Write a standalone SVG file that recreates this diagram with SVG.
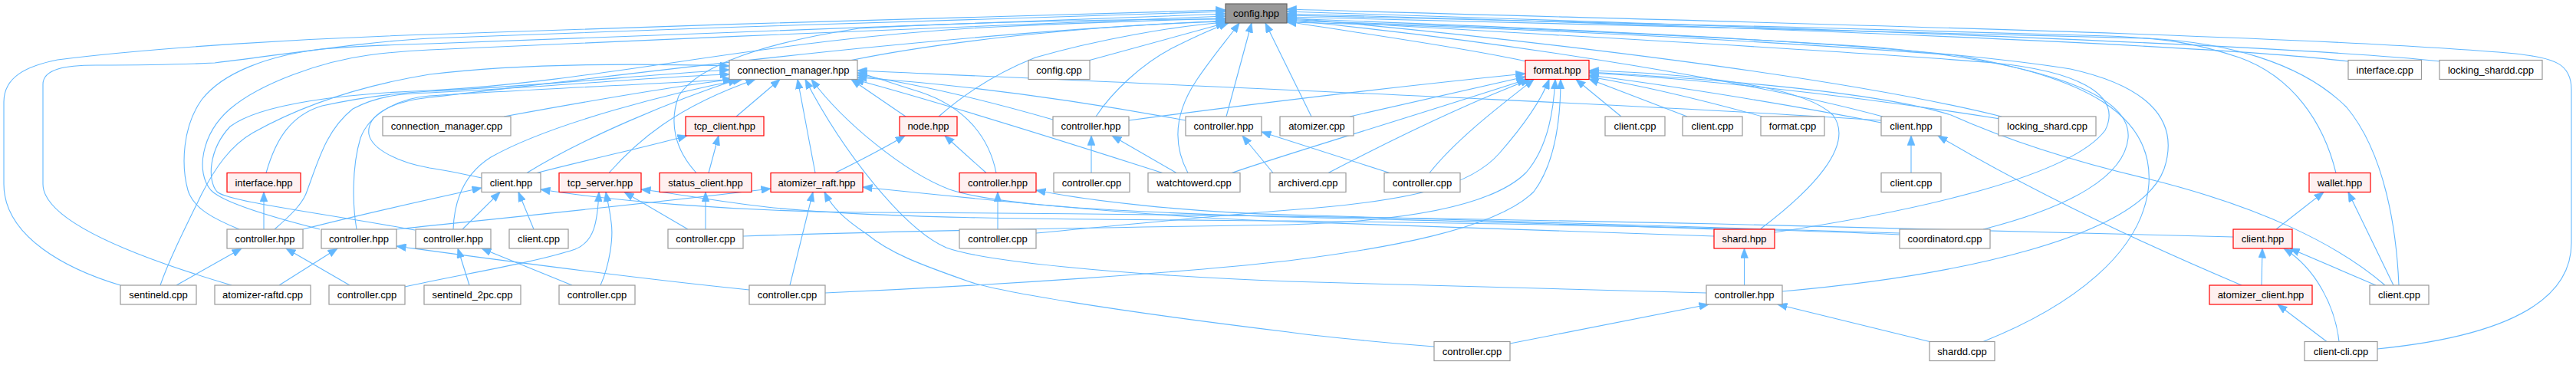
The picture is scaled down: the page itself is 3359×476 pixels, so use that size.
<svg xmlns="http://www.w3.org/2000/svg" width="3359" height="476" viewBox="0 0 3359 476">
<defs>
<style>
.e{fill:none;stroke:#63b8ff;stroke-width:1.1;marker-end:url(#ah)}
.n rect{fill:#ffffff;stroke:#999999;stroke-width:1.2}
.n.r rect{fill:#fff0f0;stroke:#ff0000}
.n.g rect{fill:#999999;stroke:#666666}
.n text{font-family:"Liberation Sans",Arial,Helvetica,sans-serif;font-size:13px;fill:#000000;text-anchor:middle}
</style>
<marker id="ah" viewBox="0 0 13 10" refX="12.5" refY="5" markerWidth="13" markerHeight="10" markerUnits="userSpaceOnUse" orient="auto"><path d="M0,0 L13,5 L0,10 z" fill="#63b8ff" stroke="#63b8ff" stroke-width="0.5"/></marker>
</defs>
<rect width="3359" height="476" fill="#ffffff"/>
<g id="edges">
<path class="e" d="M157,372 C90,352 5,310 5,240 L5,133 C5,100 35,86 75,78 C200,62 400,50 560,45 C900,33 1300,20 1598,13"/>
<path class="e" d="M302,372 C200,342 56,292 56,240 L56,110 C56,90 85,85 125,85 C200,85 240,84 280,82 C380,70 470,55 560,50 C900,37 1300,23 1598,15"/>
<path class="e" d="M312,299 C280,286 252,272 245,248 C236,215 238,165 263,130 C290,95 350,72 420,64 C470,60 520,58 560,57 C900,45 1300,28 1598,18"/>
<path class="e" d="M417,299 C350,282 290,264 275,248 C255,225 262,175 300,142 C340,108 420,80 480,72 C510,68 535,66 560,65 C900,50 1300,32 1598,21"/>
<path class="e" d="M541,300 C400,275 295,262 283,250 C270,235 272,195 300,165 C340,135 450,122 560,118 C800,105 1000,50 1300,35 C1450,28 1530,26 1598,24"/>
<path class="e" d="M908,225.5 C880,195 872,160 885,125 C910,85 1000,55 1120,37 C1300,27 1500,25 1598,25"/>
<path class="e" d="M628,232 C600,226 580,222 560,219 C520,212 485,195 481,175 C478,152 505,133 560,127 C800,100 1200,45 1598,27"/>
<path class="e" d="M1110,78.5 C1250,50 1450,32 1598,28"/>
<path class="e" d="M1224,152 C1260,120 1300,95 1350,75 C1430,52 1530,34 1598,29"/>
<path class="e" d="M1421,78.5 L1598,30"/>
<path class="e" d="M1429,152 C1450,120 1490,82 1530,62 C1560,47 1585,36 1602,30"/>
<path class="e" d="M1549,225.5 C1530,190 1530,150 1560,105 C1580,75 1600,52 1616,30"/>
<path class="e" d="M1599,152 L1632,30"/>
<path class="e" d="M1710,152 L1650,30"/>
<path class="e" d="M1990,80 C1900,60 1750,40 1678,28"/>
<path class="e" d="M3062,80 C2900,60 2300,35 1678,18"/>
<path class="e" d="M3182,80 C3000,60 2400,38 1678,15"/>
<path class="e" d="M3100,455 C3250,440 3353,400 3353,317 L3353,117 C3353,82 3330,76 3280,70 C3000,45 2300,30 1678,12"/>
<path class="e" d="M3046,225.5 C3030,160 2990,100 2920,75 C2860,55 2820,50 2750,47 C2400,36 2000,27 1678,20"/>
<path class="e" d="M3128,372 C3125,300 3110,200 3060,140 C3000,80 2900,55 2800,50 C2400,37 2000,28 1678,22"/>
<path class="e" d="M2314,303 C2500,275 2700,230 2745,170 C2770,120 2700,92 2600,82 C2400,65 2000,45 1678,25"/>
<path class="e" d="M2586,299 C2700,270 2770,230 2775,180 C2780,120 2650,80 2450,62 C2200,45 1900,33 1678,27"/>
<path class="e" d="M2324,380 C2550,360 2790,310 2822,220 C2845,150 2790,110 2700,90 C2500,58 2100,40 1678,24"/>
<path class="e" d="M2586,445.5 C2700,400 2795,330 2802,240 C2808,150 2720,100 2550,72 C2250,50 1950,35 1678,29"/>
<path class="e" d="M2455,152 C2300,110 2000,58 1678,26"/>
<path class="e" d="M2610,152 C2400,100 2000,52 1678,23"/>
<path class="e" d="M347,225.5 C360,180 380,150 420,138 C480,125 520,121 560,119 C700,112 850,97 951,91"/>
<path class="e" d="M358,299 C380,280 395,265 400,250 C415,210 425,170 460,142 C490,126 520,122 560,121 C700,115 850,100 951,97"/>
<path class="e" d="M465,299 C460,270 458,220 470,180 C482,148 520,128 560,125 C700,116 880,108 955,103.5"/>
<path class="e" d="M209,372 C220,340 240,300 263,253 C280,220 300,190 330,173 C380,145 450,115 560,97 C700,80 880,84 951,86"/>
<path class="e" d="M657,152 C750,135 880,112 955,103.5"/>
<path class="e" d="M687,225.5 C760,180 880,130 962,103.5"/>
<path class="e" d="M591,299 C592,270 600,230 640,205 C720,160 880,120 968,103.5"/>
<path class="e" d="M794,225.5 C830,185 880,140 985,103.5"/>
<path class="e" d="M960,152 L1017,103.5"/>
<path class="e" d="M1063,225.5 L1040,103.5"/>
<path class="e" d="M2237,299 C2000,290 1800,286 1680,283 C1450,276 1300,268 1238,247 C1180,225 1100,160 1058,103.5"/>
<path class="e" d="M2225,382 C2000,376 1800,370 1680,367 C1450,358 1280,340 1234,323 C1180,300 1100,200 1050,103.5"/>
<path class="e" d="M1181,152 L1110,103.5"/>
<path class="e" d="M1373,156 C1300,135 1200,110 1118,98"/>
<path class="e" d="M1546,157 C1400,130 1250,110 1118,101"/>
<path class="e" d="M1299,225.5 C1290,180 1260,140 1200,120 C1160,108 1135,98 1118,95"/>
<path class="e" d="M1516,225.5 C1420,195 1250,140 1114,103.5"/>
<path class="e" d="M2453,157 C2200,140 1700,118 1118,92"/>
<path class="e" d="M1472,157 C1600,140 1800,115 1989,96"/>
<path class="e" d="M1760,152 L1989,100"/>
<path class="e" d="M1606,225.5 C1680,200 1800,165 1991,103.5"/>
<path class="e" d="M1732,225.5 C1800,190 1900,140 1995,103.5"/>
<path class="e" d="M1864,225.5 C1900,180 1960,135 2000,103.5"/>
<path class="e" d="M1076,382 C1300,372 1550,355 1680,340 C1800,325 1950,300 2000,250 C2030,210 2035,150 2035,103.5"/>
<path class="e" d="M969,308 C1200,300 1500,296 1680,293 C1850,288 1950,265 1990,225 C2020,190 2026,140 2028,103.5"/>
<path class="e" d="M1351,304 C1500,290 1600,280 1680,274 C1850,262 1920,240 1955,200 C1990,160 2010,130 2020,103.5"/>
<path class="e" d="M2114,152 L2055,103.5"/>
<path class="e" d="M2200,152 L2072,103"/>
<path class="e" d="M2298,152 C2200,125 2120,108 2072,100"/>
<path class="e" d="M2453,160 C2300,130 2150,108 2072,98"/>
<path class="e" d="M2608,155 C2400,122 2200,102 2072,95"/>
<path class="e" d="M2295,299 C2360,250 2420,190 2390,150 C2350,110 2200,96 2072,92"/>
<path class="e" d="M3110,372 C3050,320 2950,270 2800,233 C2680,205 2600,175 2544,150 C2450,120 2250,104 2072,94"/>
<path class="e" d="M344,299 L344,250.5"/>
<path class="e" d="M395,299 C450,285 550,262 628,245"/>
<path class="e" d="M230,372 L315,324"/>
<path class="e" d="M456,372 L373,324"/>
<path class="e" d="M364,372 L440,324"/>
<path class="e" d="M977,378 C800,360 620,335 517,321"/>
<path class="e" d="M517,299 C650,285 850,265 1005,246"/>
<path class="e" d="M612,372 L597,324"/>
<path class="e" d="M746,372 L628,324"/>
<path class="e" d="M603,299 L652,250.5"/>
<path class="e" d="M696,299 L676,250.5"/>
<path class="e" d="M700,225.5 C780,205 850,190 896,177"/>
<path class="e" d="M924,225.5 L937,177"/>
<path class="e" d="M920,299 L920,250.5"/>
<path class="e" d="M897,299 L814,250.5"/>
<path class="e" d="M528,374 C600,358 700,342 750,325 C775,315 779,290 781,250.5"/>
<path class="e" d="M783,372 C795,345 800,310 797,290 C795,272 792,262 790,250.5"/>
<path class="e" d="M1030,372 L1060,250.5"/>
<path class="e" d="M1870,452 C1780,445 1700,436 1680,433 C1450,405 1300,380 1263,367 C1200,345 1160,330 1130,305 C1100,285 1085,270 1075,250.5"/>
<path class="e" d="M1089,225.5 C1120,210 1150,195 1180,177"/>
<path class="e" d="M1286,225.5 L1232,177"/>
<path class="e" d="M1301,299 L1301,250.5"/>
<path class="e" d="M1423,225.5 L1423,177"/>
<path class="e" d="M1534,225.5 L1450,177"/>
<path class="e" d="M1660,225.5 L1620,177"/>
<path class="e" d="M1812,225.5 L1645,172"/>
<path class="e" d="M2912,309 C2600,300 2300,293 2240,292 C1900,285 1500,278 1120,277 C950,275 800,262 705,247"/>
<path class="e" d="M2477,306 C2300,298 2000,292 1680,288 C1400,286 1150,286 1000,270 C930,262 880,252 836,247"/>
<path class="e" d="M2235,308 C2000,300 1800,292 1680,289 C1500,283 1300,262 1125,244"/>
<path class="e" d="M2477,304 C2200,296 1900,285 1680,280 C1550,277 1420,262 1351,248"/>
<path class="e" d="M1969,448 L2228,397"/>
<path class="e" d="M2516,445.5 L2318,397"/>
<path class="e" d="M2274.5,372 L2274.5,324"/>
<path class="e" d="M2923,372 C2800,320 2650,250 2527,177"/>
<path class="e" d="M2492,225.5 L2492,177"/>
<path class="e" d="M2949,372 L2950,324"/>
<path class="e" d="M3098,372 L2986,324"/>
<path class="e" d="M3050,445.5 C3045,400 3020,350 2978,324"/>
<path class="e" d="M3034,445.5 L2970,397"/>
<path class="e" d="M2968,299 L3030,250.5"/>
<path class="e" d="M3121,372 L3062,250.5"/>
</g>
<g id="n0" class="n g"><rect x="1598" y="5" width="80" height="25"/><text x="1638" y="22">config.hpp</text></g>
<g id="n1" class="n"><rect x="951" y="78.5" width="167" height="25"/><text x="1034.5" y="95.5">connection_manager.hpp</text></g>
<g id="n2" class="n"><rect x="1341" y="78.5" width="80" height="25"/><text x="1381" y="95.5">config.cpp</text></g>
<g id="n3" class="n r"><rect x="1989" y="78.5" width="83" height="25"/><text x="2030.5" y="95.5">format.hpp</text></g>
<g id="n4" class="n"><rect x="3062" y="78.5" width="95.5" height="25"/><text x="3109.75" y="95.5">interface.cpp</text></g>
<g id="n5" class="n"><rect x="3181" y="78.5" width="134" height="25"/><text x="3248" y="95.5">locking_shardd.cpp</text></g>
<g id="n6" class="n"><rect x="499" y="152" width="167" height="25"/><text x="582.5" y="169">connection_manager.cpp</text></g>
<g id="n7" class="n r"><rect x="894" y="152" width="102" height="25"/><text x="945" y="169">tcp_client.hpp</text></g>
<g id="n8" class="n r"><rect x="1173" y="152" width="75" height="25"/><text x="1210.5" y="169">node.hpp</text></g>
<g id="n9" class="n"><rect x="1373" y="152" width="99" height="25"/><text x="1422.5" y="169">controller.hpp</text></g>
<g id="n10" class="n"><rect x="1546" y="152" width="99" height="25"/><text x="1595.5" y="169">controller.hpp</text></g>
<g id="n11" class="n"><rect x="1669" y="152" width="96" height="25"/><text x="1717" y="169">atomizer.cpp</text></g>
<g id="n12" class="n"><rect x="2093" y="152" width="78" height="25"/><text x="2132" y="169">client.cpp</text></g>
<g id="n13" class="n"><rect x="2194" y="152" width="78" height="25"/><text x="2233" y="169">client.cpp</text></g>
<g id="n14" class="n"><rect x="2296" y="152" width="83" height="25"/><text x="2337.5" y="169">format.cpp</text></g>
<g id="n15" class="n"><rect x="2453" y="152" width="78" height="25"/><text x="2492" y="169">client.hpp</text></g>
<g id="n16" class="n"><rect x="2606" y="152" width="127" height="25"/><text x="2669.5" y="169">locking_shard.cpp</text></g>
<g id="n17" class="n r"><rect x="296" y="225.5" width="96" height="25"/><text x="344" y="242.5">interface.hpp</text></g>
<g id="n18" class="n"><rect x="628" y="225.5" width="77" height="25"/><text x="666.5" y="242.5">client.hpp</text></g>
<g id="n19" class="n r"><rect x="729" y="225.5" width="107" height="25"/><text x="782.5" y="242.5">tcp_server.hpp</text></g>
<g id="n20" class="n r"><rect x="860" y="225.5" width="120" height="25"/><text x="920" y="242.5">status_client.hpp</text></g>
<g id="n21" class="n r"><rect x="1005" y="225.5" width="120" height="25"/><text x="1065" y="242.5">atomizer_raft.hpp</text></g>
<g id="n22" class="n r"><rect x="1251" y="225.5" width="100" height="25"/><text x="1301" y="242.5">controller.hpp</text></g>
<g id="n23" class="n"><rect x="1374" y="225.5" width="99" height="25"/><text x="1423.5" y="242.5">controller.cpp</text></g>
<g id="n24" class="n"><rect x="1497" y="225.5" width="120" height="25"/><text x="1557" y="242.5">watchtowerd.cpp</text></g>
<g id="n25" class="n"><rect x="1656" y="225.5" width="99" height="25"/><text x="1705.5" y="242.5">archiverd.cpp</text></g>
<g id="n26" class="n"><rect x="1805" y="225.5" width="99" height="25"/><text x="1854.5" y="242.5">controller.cpp</text></g>
<g id="n27" class="n"><rect x="2453" y="225.5" width="78" height="25"/><text x="2492" y="242.5">client.cpp</text></g>
<g id="n28" class="n r"><rect x="3011" y="225.5" width="80" height="25"/><text x="3051" y="242.5">wallet.hpp</text></g>
<g id="n29" class="n"><rect x="296" y="299" width="99" height="25"/><text x="345.5" y="316">controller.hpp</text></g>
<g id="n30" class="n"><rect x="419" y="299" width="98" height="25"/><text x="468" y="316">controller.hpp</text></g>
<g id="n31" class="n"><rect x="542" y="299" width="98" height="25"/><text x="591" y="316">controller.hpp</text></g>
<g id="n32" class="n"><rect x="664" y="299" width="77" height="25"/><text x="702.5" y="316">client.cpp</text></g>
<g id="n33" class="n"><rect x="871" y="299" width="98" height="25"/><text x="920" y="316">controller.cpp</text></g>
<g id="n34" class="n"><rect x="1251" y="299" width="100" height="25"/><text x="1301" y="316">controller.cpp</text></g>
<g id="n35" class="n r"><rect x="2235" y="299" width="79" height="25"/><text x="2274.5" y="316">shard.hpp</text></g>
<g id="n36" class="n"><rect x="2477" y="299" width="118" height="25"/><text x="2536" y="316">coordinatord.cpp</text></g>
<g id="n37" class="n r"><rect x="2912" y="299" width="77" height="25"/><text x="2950.5" y="316">client.hpp</text></g>
<g id="n38" class="n"><rect x="157" y="372" width="99" height="25"/><text x="206.5" y="389">sentineld.cpp</text></g>
<g id="n39" class="n"><rect x="280" y="372" width="125" height="25"/><text x="342.5" y="389">atomizer-raftd.cpp</text></g>
<g id="n40" class="n"><rect x="429" y="372" width="99" height="25"/><text x="478.5" y="389">controller.cpp</text></g>
<g id="n41" class="n"><rect x="553" y="372" width="126" height="25"/><text x="616" y="389">sentineld_2pc.cpp</text></g>
<g id="n42" class="n"><rect x="729" y="372" width="99" height="25"/><text x="778.5" y="389">controller.cpp</text></g>
<g id="n43" class="n"><rect x="977" y="372" width="99" height="25"/><text x="1026.5" y="389">controller.cpp</text></g>
<g id="n44" class="n"><rect x="2225" y="372" width="99" height="25"/><text x="2274.5" y="389">controller.hpp</text></g>
<g id="n45" class="n r"><rect x="2881" y="372" width="134" height="25"/><text x="2948" y="389">atomizer_client.hpp</text></g>
<g id="n46" class="n"><rect x="3090" y="372" width="77" height="25"/><text x="3128.5" y="389">client.cpp</text></g>
<g id="n47" class="n"><rect x="1870" y="445.5" width="99" height="25"/><text x="1919.5" y="462.5">controller.cpp</text></g>
<g id="n48" class="n"><rect x="2516" y="445.5" width="85" height="25"/><text x="2558.5" y="462.5">shardd.cpp</text></g>
<g id="n49" class="n"><rect x="3005" y="445.5" width="95" height="25"/><text x="3052.5" y="462.5">client-cli.cpp</text></g>
</svg>
